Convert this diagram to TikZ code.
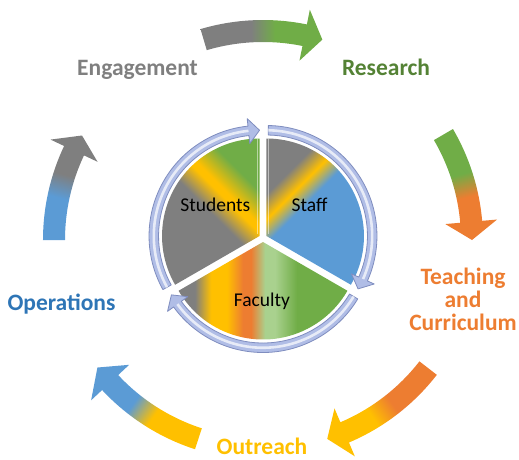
\documentclass[tikz,border=0pt]{standalone}
\usepackage{fontspec}
\setmainfont{Carlito}
\usetikzlibrary{calc}
\definecolor{cgrey}{HTML}{7F7F7F}
\definecolor{cgreen}{HTML}{70AD47}
\definecolor{clgreen}{HTML}{A9D18E}
\definecolor{cblue}{HTML}{5B9BD5}
\definecolor{corange}{HTML}{ED7D31}
\definecolor{cyellow}{HTML}{FFC000}
\definecolor{tgreen}{HTML}{548235}
\definecolor{tblue}{HTML}{2E75B6}
\definecolor{ringfill}{HTML}{B0BDE6}
\definecolor{ringline}{HTML}{7F8DBF}
\pgfdeclarehorizontalshading{studshade}{100bp}{color(0bp)=(cgrey); color(45.5bp)=(cgrey); color(50.5bp)=(cyellow); color(52bp)=(cyellow); color(58bp)=(cgreen); color(100bp)=(cgreen)}
\pgfdeclarehorizontalshading{staffshade}{100bp}{color(0bp)=(cgrey); color(42.5bp)=(cgrey); color(47bp)=(cyellow); color(51.25bp)=(cblue); color(100bp)=(cblue)}
\pgfdeclarehorizontalshading{facshade}{100bp}{color(0bp)=(cgrey); color(33bp)=(cgrey); color(37bp)=(cyellow); color(41bp)=(cyellow); color(45bp)=(corange); color(47bp)=(corange); color(50.5bp)=(clgreen); color(53bp)=(clgreen); color(58.5bp)=(cgreen); color(100bp)=(cgreen)}
\pgfdeclarehorizontalshading{arrA}{100bp}{color(0bp)=(cgrey); color(47bp)=(cgrey); color(53bp)=(cgreen); color(100bp)=(cgreen)}
\pgfdeclarehorizontalshading{arrB}{100bp}{color(0bp)=(cgreen); color(47bp)=(cgreen); color(53bp)=(corange); color(100bp)=(corange)}
\pgfdeclarehorizontalshading{arrC}{100bp}{color(0bp)=(corange); color(47bp)=(corange); color(53bp)=(cyellow); color(100bp)=(cyellow)}
\pgfdeclarehorizontalshading{arrD}{100bp}{color(0bp)=(cyellow); color(47bp)=(cyellow); color(53bp)=(cblue); color(100bp)=(cblue)}
\pgfdeclarehorizontalshading{arrE}{100bp}{color(0bp)=(cblue); color(47bp)=(cblue); color(53bp)=(cgrey); color(100bp)=(cgrey)}
% #1 tail angle, #2 head base angle, #3 tip angle, #4 shading, #5 mid angle
\newcommand\bigarrow[5]{%
  \begin{scope}
    \clip (#1:220) arc[start angle=#1, end angle=#2, radius=220] -- (#2:235) -- (#3:209)
      -- (#2:183) -- (#2:198) arc[start angle=#2, end angle=#1, radius=198] -- cycle;
    \pgfmathsetmacro\shadeang{#5-90}
    \shade[shading=#4, shading angle=\shadeang] ($(#5:209)+(-100,-100)$) rectangle ++(200,200);
  \end{scope}}
% #1 vertex, #2 start, #3 head base, #4 tip
\newcommand\ringarrow[4]{%
  \begin{scope}[shift={(#1)}]
    \filldraw[ringstyle] (#2:110.5) arc[start angle=#2, end angle=#3, radius=110.5] -- (#3:118)
      -- (#4:105.75) -- (#3:93) -- (#3:101) arc[start angle=#3, end angle=#2, radius=101] -- cycle;
    \draw[white, opacity=.7, line width=2.6] (#2:105.75) arc[start angle=#2, end angle=#3, radius=105.75];
  \end{scope}}
\tikzset{
  ringstyle/.style={fill=ringfill, draw=ringline, line width=.8, line join=round},
  lab/.style={font=\fontsize{23.5}{23}\selectfont\bfseries, inner sep=0pt},
  inlab/.style={font=\fontsize{19.5}{20}\selectfont, text=black, inner sep=0pt},
}
\begin{document}
\begin{tikzpicture}[x=1pt, y=1pt]
\useasboundingbox (-263,-219) rectangle (256,240);
\def\R{97.5}
\coordinate (Vs) at (-3.46,4);
\coordinate (Vt) at (3.46,4);
\coordinate (Vf) at (0,-2);
% pie sectors
\begin{scope}
  \clip (Vs) -- ++(90:\R) arc[start angle=90, end angle=210, radius=\R] -- cycle;
  \shade[shading=studshade, shading angle=45] ($(Vs)+(-100,-100)$) rectangle ++(200,200);
  \draw[white, opacity=.5, line width=1.5] ($(Vs)+(-2,2)$) -- ++(0,\R);
\end{scope}
\begin{scope}
  \clip (Vt) -- ++(-30:\R) arc[start angle=-30, end angle=90, radius=\R] -- cycle;
  \shade[shading=staffshade, shading angle=-45] ($(Vt)+(-100,-100)$) rectangle ++(200,200);
  \draw[white, opacity=.5, line width=1.5] ($(Vt)+(2,2)$) -- ++(0,\R);
\end{scope}
\begin{scope}
  \clip (Vf) -- ++(210:\R) arc[start angle=210, end angle=330, radius=\R] -- cycle;
  \shade[shading=facshade, shading angle=0] ($(Vf)+(-100,-100)$) rectangle ++(200,200);
\end{scope}
% ring arrows
\ringarrow{Vs}{209}{96}{90}
\ringarrow{Vt}{89}{-24}{-30}
\ringarrow{Vf}{-31}{-144}{-150}
% inner labels
\node[inlab, anchor=base] (students) at (-47.7,28.3) {Students};
\node[inlab, anchor=base] (staff) at (46.5,28.3) {Staff};
\node[inlab, anchor=base] (faculty) at (-1,-66.7) {Faculty};
% outer arrows
\bigarrow{106.5}{78.5}{73.5}{arrA}{90}
\bigarrow{30.3}{5}{0}{arrB}{15.15}
\bigarrow{-37.8}{-67}{-72.1}{arrC}{-55}
\bigarrow{252}{223}{217.6}{arrD}{234.8}
\bigarrow{180}{154.7}{150}{arrE}{165}
% outer labels
\node[lab, text=cgrey, anchor=base] (eng) at (-125.5,165) {Engagement};
\node[lab, text=tgreen, anchor=base] (res) at (123,165) {Research};
\node[lab, text=corange, align=center, anchor=north] (teach) at (200,-28.3) {Teaching\\and\\Curriculum};
\node[lab, text=cyellow, anchor=base] (out) at (-1,-214) {Outreach};
\node[lab, text=tblue, anchor=base] (ops) at (-201.5,-70.7) {Operations};
\end{tikzpicture}
\end{document}
